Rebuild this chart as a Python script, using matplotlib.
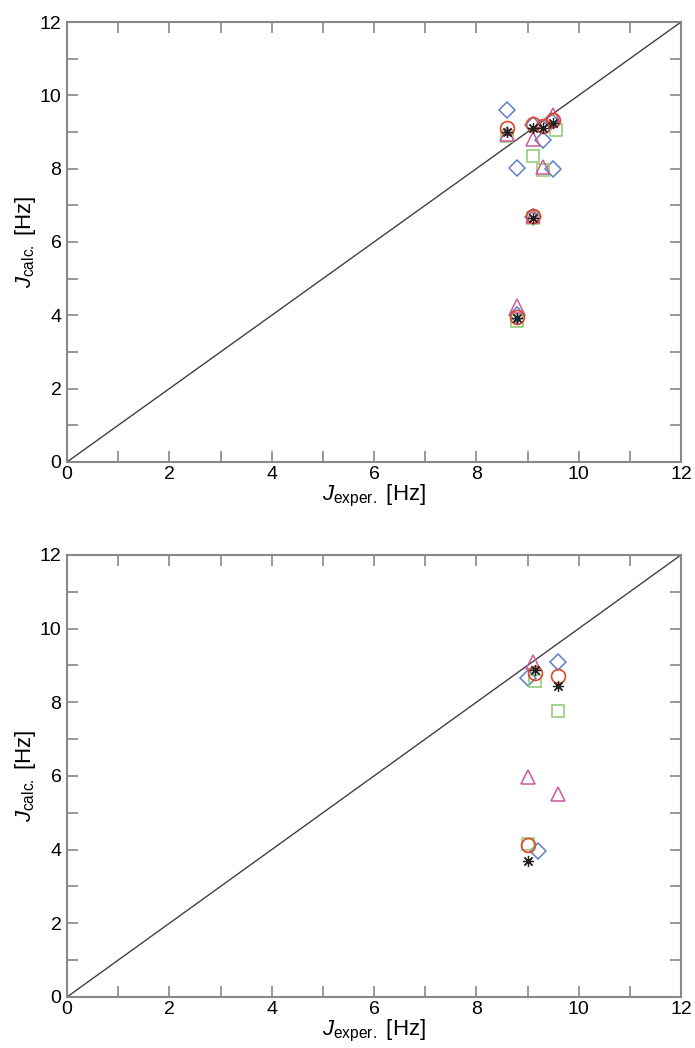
import matplotlib.pyplot as plt

plt.rcParams['font.family'] = ['Liberation Sans', 'DejaVu Sans']
plt.rcParams['mathtext.fontset'] = 'custom'
plt.rcParams['mathtext.rm'] = 'Liberation Sans'
plt.rcParams['mathtext.it'] = 'Liberation Sans:italic'

# =========================
# Daten: oberes Diagramm
# =========================
top_diamond_x = [8.6, 8.8, 9.1, 9.3, 9.5, 9.45, 9.1, 8.8]
top_diamond_y = [9.6, 8.02, 9.2, 8.78, 7.98, 9.3, 6.68, 4.0]
top_circle_x = [8.6, 9.1, 9.3, 9.5, 9.1, 8.8]
top_circle_y = [9.1, 9.22, 9.15, 9.33, 6.7, 3.95]
top_square_x = [8.6, 9.1, 9.3, 9.55, 9.1, 8.8]
top_square_y = [8.9, 8.35, 7.97, 9.05, 6.65, 3.85]
top_tri_x = [8.6, 9.1, 9.3, 9.5, 9.1, 8.8]
top_tri_y = [8.95, 8.8, 8.05, 9.45, 6.72, 4.25]
top_star_x = [8.6, 9.1, 9.3, 9.5, 9.1, 8.8]
top_star_y = [9.0, 9.1, 9.1, 9.25, 6.65, 3.92]

# =========================
# Daten: unteres Diagramm
# =========================
bot_diamond_x = [9.0, 9.6, 9.2]
bot_diamond_y = [8.66, 9.1, 3.97]
bot_circle_x = [9.15, 9.6, 9.0]
bot_circle_y = [8.8, 8.72, 4.13]
bot_square_x = [9.15, 9.6, 9.0]
bot_square_y = [8.58, 7.77, 4.15]
bot_tri_x = [9.1, 9.6, 9.0]
bot_tri_y = [9.1, 5.5, 5.97]
bot_star_x = [9.15, 9.6, 9.0]
bot_star_y = [8.88, 8.45, 3.7]

TICKS = list(range(0, 13))
TICK_LABELS = [str(t) if t % 2 == 0 else "" for t in TICKS]

STYLES = {
    "diamond": dict(marker="D", ms=8.5, mfc="none", mec="#5b80c8", mew=1.1),
    "circle": dict(marker="o", ms=10, mfc="none", mec="#e2462c", mew=1.2),
    "square": dict(marker="s", ms=9, mfc="none", mec="#8dc86c", mew=1.1),
    "tri": dict(marker="^", ms=10, mfc="none", mec="#c95a9a", mew=1.1),
    "star": dict(marker=(8, 2, 0), ms=8, mfc="none", mec="#222222", mew=0.9),
}


def style_axes(ax):
    ax.plot([0, 12], [0, 12], color="#404040", lw=1.0, zorder=1)
    ax.set_xlim(0, 12)
    ax.set_ylim(0, 12)
    ax.set_xticks(TICKS)
    ax.set_xticklabels(TICK_LABELS)
    ax.set_yticks(TICKS)
    ax.set_yticklabels(TICK_LABELS)
    ax.tick_params(direction="in", length=8, width=1.2, color="#888888",
                   top=True, right=True, labelsize=14)
    ax.tick_params(axis="x", pad=3)
    ax.tick_params(axis="y", pad=4)
    for s in ax.spines.values():
        s.set_color("#888888")
        s.set_linewidth(1.5)
    ax.set_xlabel(r"$J_{\mathrm{exper.}}$ [Hz]", fontsize=16, labelpad=0)
    ax.set_ylabel(r"$J_{\mathrm{calc.}}$ [Hz]", fontsize=16, labelpad=1)


def draw(ax, series):
    for key, (xs, ys) in series.items():
        ax.plot(xs, ys, ls="none", zorder=3, **STYLES[key])


fig = plt.figure(figsize=(6.95, 10.48), dpi=100)
ax1 = fig.add_axes([0.0964, 0.5592, 0.8835, 0.4198])
ax2 = fig.add_axes([0.0964, 0.0487, 0.8835, 0.4218])

draw(ax1, {
    "diamond": (top_diamond_x, top_diamond_y),
    "square": (top_square_x, top_square_y),
    "tri": (top_tri_x, top_tri_y),
    "circle": (top_circle_x, top_circle_y),
    "star": (top_star_x, top_star_y),
})
draw(ax2, {
    "diamond": (bot_diamond_x, bot_diamond_y),
    "square": (bot_square_x, bot_square_y),
    "tri": (bot_tri_x, bot_tri_y),
    "circle": (bot_circle_x, bot_circle_y),
    "star": (bot_star_x, bot_star_y),
})

style_axes(ax1)
style_axes(ax2)

fig.savefig("out.png", dpi=100)
